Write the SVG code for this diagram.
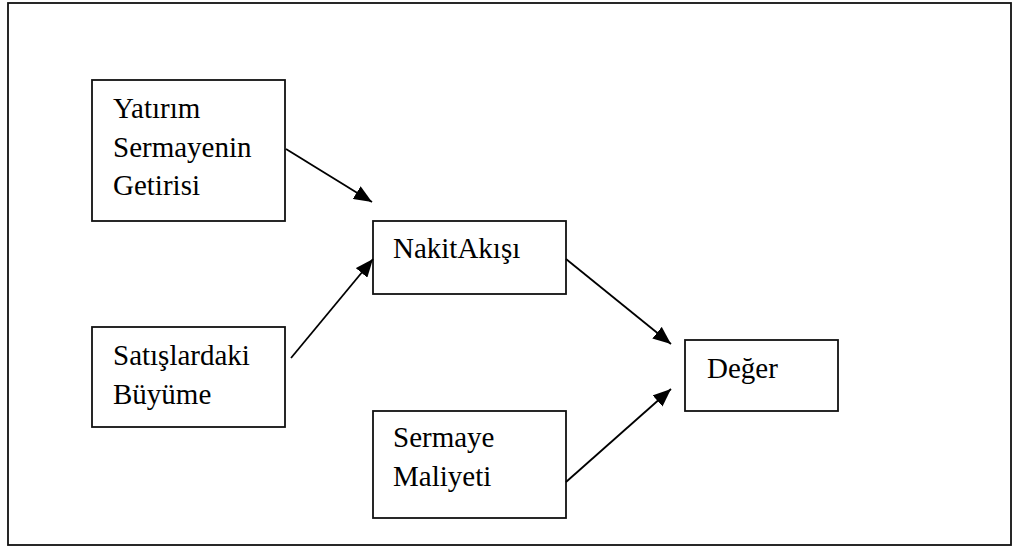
<svg xmlns="http://www.w3.org/2000/svg" width="1014" height="548" viewBox="0 0 1014 548">
<style>
.box{fill:#fff;stroke:#111;stroke-width:1.8}
.frame{fill:#fff;stroke:#111;stroke-width:1.8}
.lbl{font-family:'Liberation Serif','DejaVu Serif','Times New Roman',Times,serif;font-size:29px;fill:#000}
.edge{stroke:#000;stroke-width:1.8;fill:none;marker-end:url(#arr)}
</style>
<defs>
<marker id="arr" markerUnits="userSpaceOnUse" markerWidth="19" markerHeight="15" refX="18" refY="7.5" orient="auto">
<path d="M0,0 L18,7.5 L0,15 Z" fill="#000"/>
</marker>
</defs>
<rect class="frame" x="8" y="3" width="1003" height="542"/>
<g id="n-yatirim">
<rect class="box" x="92" y="80" width="193" height="141"/>
<text class="lbl" x="113" y="118">Yatırım</text>
<text class="lbl" x="113" y="157">Sermayenin</text>
<text class="lbl" x="113" y="195">Getirisi</text>
</g>
<g id="n-satis">
<rect class="box" x="92" y="327" width="193" height="100"/>
<text class="lbl" x="113" y="365">Satışlardaki</text>
<text class="lbl" x="113" y="404">Büyüme</text>
</g>
<g id="n-nakit">
<rect class="box" x="373" y="221" width="193" height="73"/>
<text class="lbl" x="393" y="258">NakitAkışı</text>
</g>
<g id="n-sermaye">
<rect class="box" x="373" y="411" width="193" height="107"/>
<text class="lbl" x="393" y="447">Sermaye</text>
<text class="lbl" x="393" y="486">Maliyeti</text>
</g>
<g id="n-deger">
<rect class="box" x="685" y="340" width="153" height="71"/>
<text class="lbl" x="707" y="378">Değer</text>
</g>
<g id="connectors">
<line class="edge" x1="286" y1="149" x2="372" y2="202"/>
<line class="edge" x1="291" y1="358" x2="373" y2="259"/>
<line class="edge" x1="566" y1="259" x2="671" y2="344"/>
<line class="edge" x1="566" y1="482" x2="671" y2="389"/>
</g>
</svg>
